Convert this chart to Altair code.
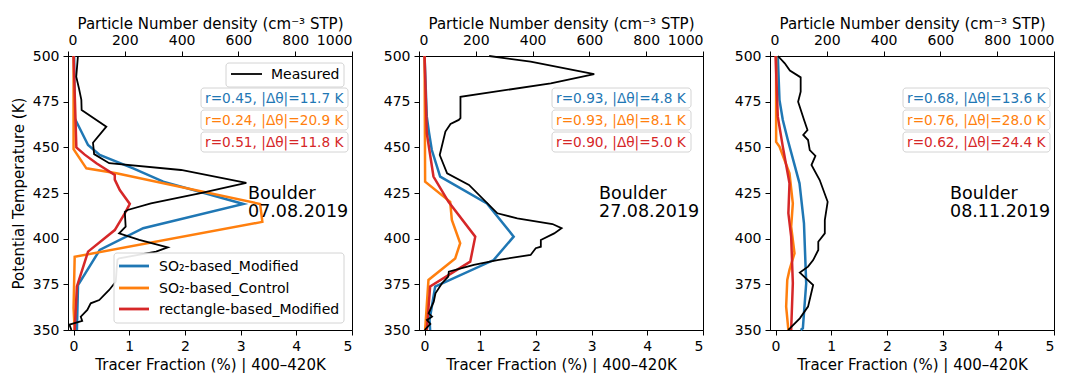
import altair as alt
import pandas as pd

FONT = "DejaVu Sans"

# ---------------- data ----------------
series_names = ["SO₂-based_Modified", "SO₂-based_Control", "rectangle-based_Modified"]
series_colors = ["#1f77b4", "#ff7f0e", "#d62728"]
dates = ["07.08.2019", "27.08.2019", "08.11.2019"]
r_vals = [[0.45, 0.24, 0.51], [0.93, 0.93, 0.90], [0.68, 0.76, 0.62]]
dtheta_vals = [[11.7, 20.9, 11.8], [4.8, 8.1, 5.0], [13.6, 28.0, 24.4]]

# Panel 1 (07.08.2019)
meas1_theta = [500, 488.7, 482, 476, 470.4, 461.3, 452.5, 446.3, 441.3, 437.6, 430.6, 424.8,
               419.3, 415.7, 414.6, 406.6, 402.9, 399.3, 395.2, 392.9, 389.2, 388.5, 376.4,
               371.9, 366.4, 364.6, 361, 357.3, 355, 353, 350]
meas1_dens = [35, 29, 39, 47, 48, 135, 88, 92, 145, 398, 628, 463,
              292, 210, 200, 203, 180, 251, 351, 310, 180, 174, 168,
              145, 110, 80, 68, 45, 50, 5, 12]
blue1_theta = [500, 465.9, 451.3, 445.8, 438.5, 431.2, 419, 405.7, 393.8, 374.6, 350]
blue1_frac = [0.01, 0.02, 0.26, 0.47, 1.07, 1.61, 3.05, 1.25, 0.47, 0.08, 0.06]
orange1_theta = [500, 449, 438.5, 435.8, 419, 409.2, 390.1, 362, 350]
orange1_frac = [0.0, 0.0, 0.23, 0.77, 3.35, 3.39, 0.02, 0.0, 0.02]
red1_theta = [500, 450, 446, 441.3, 434.9, 432.3, 426.6, 419, 413.9, 404.7, 392.9, 373.8, 350]
red1_frac = [0.0, 0.05, 0.2, 0.41, 0.74, 0.74, 0.83, 1.01, 0.92, 0.74, 0.26, 0.06, 0.02]

# Panel 2 (27.08.2019)
meas2_theta = [500, 496.9, 490.1, 485, 477.7, 466, 465, 462.8, 458.6, 445.8, 435.8, 429.4,
               413.9, 411.1, 408, 405.7, 402.9, 399.3, 395.6, 394.8, 391.1, 388.3, 385.6,
               381.9, 379.2, 375.6, 370.1, 365.5, 359.1, 357.3, 355.5, 353.3, 350]
meas2_dens = [247, 393, 617, 464, 146, 146, 140, 111, 93, 73, 99, 176,
              276, 346, 470, 502, 476, 429, 429, 411, 393, 276, 193,
              105, 103, 81, 58, 52, 34, 46, 28, 40, 20]
blue2_theta = [500, 466.8, 458, 448.5, 434, 419.3, 401.1, 388.3, 373.8, 355.5, 350]
blue2_frac = [0.0, 0.04, 0.08, 0.13, 0.28, 1.12, 1.6, 1.24, 0.19, 0.09, 0.1]
orange2_theta = [500, 431.2, 420.2, 410.2, 397.5, 389.2, 377.4, 350]
orange2_frac = [0.0, 0.01, 0.46, 0.49, 0.64, 0.55, 0.07, 0.01]
red2_theta = [500, 457.7, 434, 420.2, 401.1, 387.4, 373.8, 350]
red2_frac = [0.0, 0.04, 0.16, 0.43, 0.91, 0.82, 0.1, 0.04]

# Panel 3 (08.11.2019)
meas3_theta = [500, 496, 492, 488.3, 480.5, 475, 465, 459.5, 456.8, 454, 448.5, 445.3,
               440.3, 432.1, 420.2, 410.2, 402.9, 398.3, 393.8, 388.3, 384.7, 381.4,
               374.6, 362.8, 356.4, 350.9, 350]
meas3_dens = [28, 52, 70, 108, 108, 99, 120, 132, 117, 134, 140, 160,
              146, 175, 203, 193, 193, 170, 170, 152, 134, 105,
              152, 134, 105, 70, 64]
blue3_theta = [500, 476, 465, 454, 430.3, 408.4, 375.6, 350.9, 350]
blue3_frac = [0.04, 0.07, 0.13, 0.22, 0.43, 0.51, 0.55, 0.49, 0.45]
orange3_theta = [500, 453, 450.4, 435.8, 419.3, 406.6, 392, 382.9, 377.4, 362.8, 350]
orange3_frac = [0.01, 0.01, 0.07, 0.25, 0.31, 0.28, 0.34, 0.25, 0.21, 0.19, 0.23]
red3_theta = [500, 466.8, 450.4, 430.3, 413.9, 401.1, 375.6, 350]
red3_frac = [0.0, 0.04, 0.13, 0.25, 0.23, 0.28, 0.31, 0.28]

meas_data = [(meas1_theta, meas1_dens), (meas2_theta, meas2_dens), (meas3_theta, meas3_dens)]
model_data = [
    [(blue1_theta, blue1_frac), (orange1_theta, orange1_frac), (red1_theta, red1_frac)],
    [(blue2_theta, blue2_frac), (orange2_theta, orange2_frac), (red2_theta, red2_frac)],
    [(blue3_theta, blue3_frac), (orange3_theta, orange3_frac), (red3_theta, red3_frac)],
]

theta_ticks = [350, 375, 400, 425, 450, 475, 500]
dens_ticks = [0, 200, 400, 600, 800, 1000]
frac_ticks = [0, 1, 2, 3, 4, 5]

W, H = 284, 274
one = pd.DataFrame({"a": [0]})


def box(x1, x2, y1, y2):
    return alt.Chart(one).mark_rect(
        fill="white", stroke="#d0d0d0", strokeWidth=1, cornerRadius=3, opacity=0.9
    ).encode(x=alt.value(x1), x2=alt.value(x2), y=alt.value(y1), y2=alt.value(y2))


def seg(x1, x2, y, color, width):
    return alt.Chart(one).mark_rule(color=color, strokeWidth=width).encode(
        x=alt.value(x1), x2=alt.value(x2), y=alt.value(y))


def label(x, y, txt, color="black", size=14, align="left"):
    return alt.Chart(pd.DataFrame({"t": [txt]})).mark_text(
        align=align, baseline="alphabetic", font=FONT, fontSize=size, color=color
    ).encode(x=alt.value(x), y=alt.value(y), text="t:N")


def make_panel(i):
    th, de = meas_data[i]
    meas = pd.DataFrame({"theta": th, "dens": de, "idx": list(range(len(th)))})
    rows = []
    for s, (mt, mf) in enumerate(model_data[i]):
        for k, (t, f) in enumerate(zip(mt, mf)):
            rows.append({"theta": t, "frac": f, "series": series_names[s], "idx": k})
    models = pd.DataFrame(rows)

    yaxis_kw = dict(values=theta_ticks, titlePadding=6)
    yaxis_kw["title"] = "Potential Temperature (K)" if i == 0 else ""
    yenc = alt.Y("theta:Q", scale=alt.Scale(domain=[350, 500], nice=False, zero=False),
                 axis=alt.Axis(**yaxis_kw))

    model_lines = alt.Chart(models).mark_line(strokeWidth=2.5).encode(
        x=alt.X("frac:Q", scale=alt.Scale(domain=[-0.1, 5], nice=False, zero=False),
                axis=alt.Axis(orient="bottom", values=frac_ticks, format="d",
                              title="Tracer Fraction (%) | 400–420K", titlePadding=4)),
        y=yenc,
        color=alt.Color("series:N", scale=alt.Scale(domain=series_names, range=series_colors),
                        legend=None),
        order="idx:Q",
    )
    meas_line = alt.Chart(meas).mark_line(color="black", strokeWidth=1.8).encode(
        x=alt.X("dens:Q", scale=alt.Scale(domain=[0, 1000], nice=False, zero=False),
                axis=alt.Axis(orient="top", values=dens_ticks, format="d",
                              title="Particle Number density (cm⁻³ STP)", titlePadding=2)),
        y=yenc,
        order="idx:Q",
    )

    layers = [model_lines, meas_line]

    # r / |Δθ| boxes
    box_y = [(32, 52), (54, 74), (76, 96)]
    base_y = [46.5, 68.5, 90.5]
    for s in range(3):
        txt = f"r={r_vals[i][s]:.2f}, |Δθ|={dtheta_vals[i][s]:.1f} K"
        bw = 147 if len(txt) >= 19 else 139
        layers.append(box(133, 133 + bw, box_y[s][0], box_y[s][1]))
        layers.append(label(137, base_y[s], txt, color=series_colors[s], size=13.7))

    # station label
    layers.append(alt.Chart(pd.DataFrame({"t": [f"Boulder\n{dates[i]}"]})).mark_text(
        align="left", baseline="alphabetic", font=FONT, fontSize=17.5, lineBreak="\n",
        lineHeight=18, color="black").encode(x=alt.value(180), y=alt.value(143), text="t:N"))

    if i == 0:
        # Measured legend
        layers.append(box(158, 276, 7, 31))
        layers.append(seg(163, 194, 18, "black", 1.8))
        layers.append(label(203, 23, "Measured"))
        # model legend
        layers.append(box(46, 276, 197, 267))
        ly = [210, 232, 253]
        for s in range(3):
            layers.append(seg(51, 81, ly[s], series_colors[s], 2.8))
            layers.append(label(91, ly[s] + 5, series_names[s]))

    return alt.layer(*layers).resolve_scale(x="independent").properties(width=W, height=H)


panels = [make_panel(i) for i in range(3)]

chart = alt.HConcatChart(hconcat=panels, spacing=67, bounds="flush").properties(
    padding={"left": 10, "top": 15, "right": 0, "bottom": 0}
).configure_view(stroke="black", strokeWidth=1).configure_axis(
    labelFont=FONT, titleFont=FONT, labelFontSize=14, titleFontSize=15,
    titleFontWeight="normal", labelColor="black", titleColor="black",
    tickColor="black", domainColor="black", grid=False, tickSize=5, labelPadding=4,
)

chart.save("out.html", embed_options={"renderer": "svg", "actions": False})
